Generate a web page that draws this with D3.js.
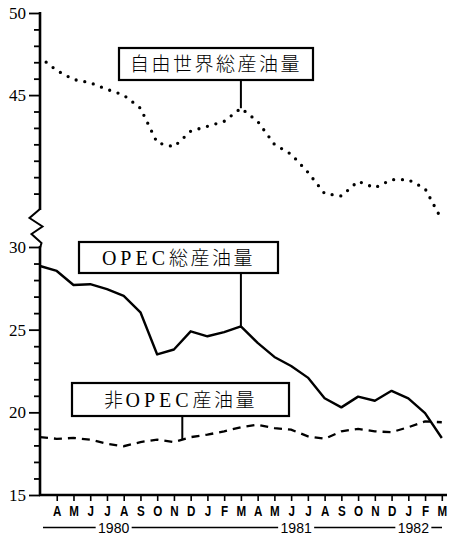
<!DOCTYPE html>
<html>
<head>
<meta charset="utf-8">
<script src="https://cdn.jsdelivr.net/npm/d3@7"></script>
<style>
  body { margin: 0; background: #fff; }
  svg { display: block; }
</style>
</head>
<body>
<svg></svg>
<script>
// size of the picture
const width = 451,
    height = 536;

// month ticks, Mar 1980 .. Mar 1982 (first one sits on the y axis, no label)
const months = ["M", "A", "M", "J", "J", "A", "S", "O", "N", "D",
    "J", "F", "M", "A", "M", "J", "J", "A", "S", "O", "N", "D",
    "J", "F", "M"];

// million barrels / day
const freeWorld = [47.3, 46.5, 45.95, 45.75, 45.35, 45.0, 44.2, 42.1, 41.85, 42.8,
    43.1, 43.4, 44.2, 43.4, 42.0, 41.4, 40.3, 39.0, 38.85, 39.75,
    39.35, 39.85, 39.85, 39.3, 37.4];
const opec = [28.85, 28.55, 27.7, 27.75, 27.45, 27.05, 26.05, 23.5, 23.8, 24.9,
    24.6, 24.85, 25.2, 24.2, 23.35, 22.8, 22.1, 20.85, 20.3, 20.95,
    20.7, 21.3, 20.85, 19.95, 18.45];
const nonOpec = [18.5, 18.4, 18.45, 18.35, 18.1, 17.95, 18.2, 18.35, 18.2, 18.5,
    18.65, 18.85, 19.1, 19.25, 19.05, 18.95, 18.55, 18.4, 18.85, 19.0,
    18.85, 18.8, 19.1, 19.45, 19.4];

// year labels and the month they sit on
const yearLabels = ["1980", "1981", "1982"];
const yearAt = [4.4, 15.3, 22.3];

// y ticks: every unit, labels only on these
const upperTicks = d3.range(39, 51);
const lowerTicks = d3.range(15, 31);
const labelledTicks = [50, 45, 30, 25, 20, 15];

const svg = d3.select("svg")
    .attr("width", width)
    .attr("height", height)
    .attr("viewBox", [0, 0, width, height]);

const x = d3.scaleLinear().domain([0, 24]).range([40, 441.8]);
// broken y axis: two pieces with the same scale per unit
const yHigh = d3.scaleLinear().domain([38, 50]).range([210, 13]);
const yLow = d3.scaleLinear().domain([15, 30]).range([495, 247]);

const serif = "'Liberation Serif', 'DejaVu Serif', serif";
const sans = "'Liberation Sans', Arial, sans-serif";
const cjk = "'Noto Sans CJK JP', 'Noto Sans CJK SC', sans-serif";

// y axis pieces
function yPiece(scale, ticks) {
    const g = svg.append("g").attr("transform", "translate(40,0)");
    g.append("g")
        .call(d3.axisLeft(scale).tickValues(ticks.filter(d => !labelledTicks.includes(d)))
            .tickSize(6).tickSizeOuter(0).tickFormat(""))
        .call(s => s.select(".domain").remove());
    g.append("g")
        .call(d3.axisLeft(scale).tickValues(ticks.filter(d => labelledTicks.includes(d)))
            .tickSize(11).tickSizeOuter(0).tickPadding(3))
        .call(s => s.select(".domain").remove())
        .call(s => s.selectAll("text")
            .attr("font-family", serif)
            .attr("font-size", 17)
            .attr("fill", "#000"));
    g.selectAll(".tick line").attr("stroke", "#000").attr("stroke-width", 1.8);
    g.append("line")
        .attr("y1", scale.range()[1] - 1)
        .attr("y2", scale.range()[0])
        .attr("stroke", "#000")
        .attr("stroke-width", 2.6);
}
yPiece(yHigh, upperTicks);
yPiece(yLow, lowerTicks);

// zigzag of the axis break
svg.append("path")
    .attr("d", d3.line()([[40, 209], [29.5, 218], [42.5, 226.5], [31.5, 234], [41.5, 243], [40, 248]]))
    .attr("fill", "none")
    .attr("stroke", "#000")
    .attr("stroke-width", 2);

// x axis
const xg = svg.append("g")
    .attr("transform", "translate(0,495)")
    .call(d3.axisBottom(x).tickValues(d3.range(1, 25))
        .tickFormat(i => months[i])
        .tickSize(6).tickSizeOuter(0).tickPadding(4.5))
    .call(s => s.select(".domain").remove());
xg.selectAll(".tick line").attr("stroke", "#000").attr("stroke-width", 1.6);
xg.selectAll("text")
    .attr("font-family", sans)
    .attr("font-weight", "bold")
    .attr("font-size", 14.5)
    .attr("transform", "scale(0.8,1)")
    .attr("fill", "#000");
xg.append("line")
    .attr("x1", 39).attr("x2", 447)
    .attr("stroke", "#000")
    .attr("stroke-width", 2.4);

// year row
svg.append("line")
    .attr("x1", 43).attr("x2", 442)
    .attr("y1", 527.5).attr("y2", 527.5)
    .attr("stroke", "#000")
    .attr("stroke-width", 1.3);
const yrs = svg.selectAll(".yr")
    .data(yearLabels)
    .join("g")
    .attr("class", "yr")
    .attr("transform", (d, i) => `translate(${x(yearAt[i])},532.8)`);
yrs.append("rect")
    .attr("x", -18).attr("y", -12)
    .attr("width", 36).attr("height", 13)
    .attr("fill", "#fff");
yrs.append("text")
    .attr("text-anchor", "middle")
    .attr("font-family", sans)
    .attr("font-size", 14.5)
    .attr("transform", "scale(0.97,1)")
    .text(d => d);

// series lines
const lineHigh = d3.line().x((d, i) => x(i)).y(d => yHigh(d));
const lineLow = d3.line().x((d, i) => x(i)).y(d => yLow(d));

svg.append("path")
    .attr("d", lineHigh(freeWorld))
    .attr("fill", "none")
    .attr("stroke", "#000")
    .attr("stroke-width", 3.3)
    .attr("stroke-linecap", "round")
    .attr("stroke-dasharray", "0 8.8")
    .attr("stroke-dashoffset", 1);

svg.append("path")
    .attr("d", lineLow(opec))
    .attr("fill", "none")
    .attr("stroke", "#000")
    .attr("stroke-width", 2.4)
    .attr("stroke-linejoin", "round");

svg.append("path")
    .attr("d", lineLow(nonOpec))
    .attr("fill", "none")
    .attr("stroke", "#000")
    .attr("stroke-width", 2.3)
    .attr("stroke-dasharray", "8 6");

// callout boxes
function valueAt(series, m) {
    const i = Math.floor(m), t = m - i;
    return series[i] + (series[Math.min(i + 1, series.length - 1)] - series[i]) * t;
}
const callouts = [
    { parts: [["自由世界総産油量", cjk]], box: [119, 48, 194, 32], m: 12, y: yHigh(valueAt(freeWorld, 12)) },
    { parts: [["OPEC", serif], ["総産油量", cjk]], box: [79, 242, 199, 31], m: 12, y: yLow(valueAt(opec, 12)) },
    { parts: [["非", cjk], ["OPEC", serif], ["産油量", cjk]], box: [72, 383, 217, 33], m: 8.5, y: yLow(valueAt(nonOpec, 8.5)) }
];

callouts.forEach(c => {
    const [bx, by, bw, bh] = c.box;
    svg.append("line")
        .attr("x1", x(c.m)).attr("x2", x(c.m))
        .attr("y1", by + bh).attr("y2", c.y)
        .attr("stroke", "#000")
        .attr("stroke-width", 2);
    svg.append("rect")
        .attr("x", bx).attr("y", by)
        .attr("width", bw).attr("height", bh)
        .attr("fill", "#fff")
        .attr("stroke", "#000")
        .attr("stroke-width", 2.2);
    const t = svg.append("text")
        .attr("x", bx + bw / 2)
        .attr("y", by + bh / 2 + 7)
        .attr("text-anchor", "middle")
        .attr("font-size", 19);
    c.parts.forEach(p => {
        t.append("tspan")
            .attr("font-family", p[1])
            .attr("font-weight", p[1] === cjk ? 300 : 400)
            .attr("font-size", p[1] === cjk ? 19 : 20)
            .attr("letter-spacing", p[1] === cjk ? 2.5 : 4)
            .text(p[0]);
    });
});
</script>
</body>
</html>
